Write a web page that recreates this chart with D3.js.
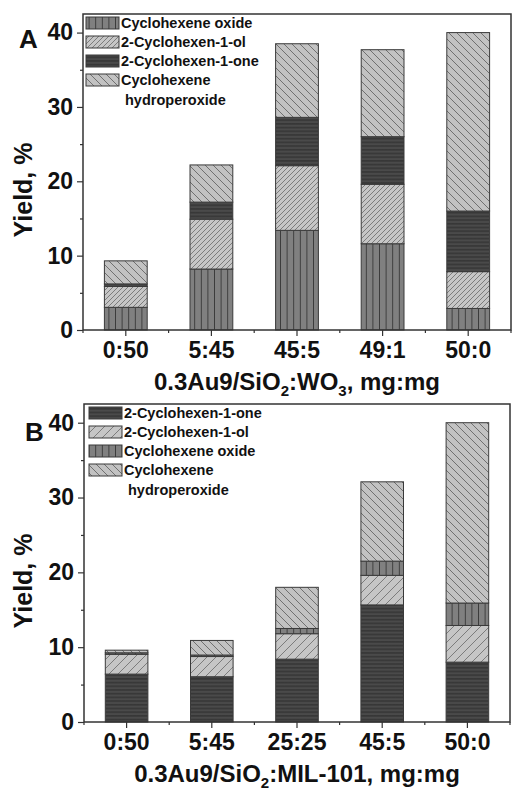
<!DOCTYPE html>
<html>
<head>
<meta charset="utf-8">
<script src="https://cdn.jsdelivr.net/npm/d3@7"></script>
<style>
  body { margin: 0; background: #fff; }
  text { font-family: "Liberation Sans", Arial, sans-serif; font-weight: bold; fill: #111; }
</style>
</head>
<body>
<div id="chart"></div>
<script>
// panel A: 0.3Au9/SiO2:WO3
var catsA = ["0:50", "5:45", "45:5", "49:1", "50:0"];
var oxideA = [3.05, 8.2, 13.4, 11.6, 2.9];
var olA = [2.8, 6.7, 8.7, 8.0, 4.95];
var oneA = [0.35, 2.3, 6.5, 6.4, 8.15];
var hydroA = [3.1, 5.0, 9.9, 11.7, 24.0];

// panel B: 0.3Au9/SiO2:MIL-101
var catsB = ["0:50", "5:45", "25:25", "45:5", "50:0"];
var oneB = [6.4, 6.05, 8.4, 15.65, 8.0];
var olB = [2.65, 2.7, 3.4, 3.95, 4.9];
var oxideB = [0.2, 0.2, 0.7, 1.9, 3.0];
var hydroB = [0.35, 1.95, 5.5, 10.6, 24.1];

var yTicks = [0, 10, 20, 30, 40];
var yMinor = [5, 15, 25, 35];

var width = 513, height = 790;

var svg = d3.select("#chart").append("svg")
  .attr("width", width)
  .attr("height", height);

var defs = svg.append("defs");

function addpattern(id, size, bg, line, path, sw) {
  var p = defs.append("pattern")
    .attr("id", id)
    .attr("patternUnits", "userSpaceOnUse")
    .attr("width", size)
    .attr("height", size);
  p.append("rect").attr("width", size).attr("height", size).attr("fill", bg);
  p.append("path").attr("d", path).attr("stroke", line).attr("stroke-width", sw).attr("fill", "none");
}

// vertical lines - cyclohexene oxide
addpattern("vert", 6.6, "#808080", "#3c3c3c", "M3.3,0V6.6", 1);
// horizontal lines - 2-cyclohexen-1-one
addpattern("horiz", 3.7, "#4a4a4a", "#262626", "M0,1.8H3.7", 0.9);
// "/" - 2-cyclohexen-1-ol (dense in A)
addpattern("fwdA", 5, "#c6c6c6", "#6a6a6a", "M-1,1L1,-1M0,5L5,0M4,6L6,4", 0.8);
// "/" - 2-cyclohexen-1-ol (wide in B)
addpattern("fwdB", 9, "#c6c6c6", "#6a6a6a", "M-1,1L1,-1M0,9L9,0M8,10L10,8", 0.8);
// "\" - cyclohexene hydroperoxide
addpattern("back", 8, "#c2c2c2", "#5a5a5a", "M-1,7L1,9M0,0L8,8M7,-1L9,1", 0.8);

function drawPanel(cfg) {
  var x = d3.scaleBand()
    .domain(cfg.cats)
    .range([cfg.x0, cfg.x1])
    .paddingInner(0.5)
    .paddingOuter(0.25);
  var y = d3.scaleLinear()
    .domain([0, 42.5])
    .range([cfg.yBottom, cfg.yTop]);

  var g = svg.append("g");

  // stacked bars
  var rows = cfg.cats.map(function(c, i) {
    var r = { cat: c };
    cfg.series.forEach(function(s) { r[s.key] = s.values[i]; });
    return r;
  });
  var stack = d3.stack().keys(cfg.series.map(function(s) { return s.key; }));
  var layers = stack(rows);

  layers.forEach(function(layer, li) {
    g.selectAll(null)
      .data(layer)
      .enter()
      .append("rect")
      .attr("x", function(d) { return x(d.data.cat); })
      .attr("y", function(d) { return y(d[1]); })
      .attr("width", x.bandwidth())
      .attr("height", function(d) { return y(d[0]) - y(d[1]); })
      .attr("fill", "url(#" + cfg.series[li].pattern + ")")
      .attr("stroke", "#3a3a3a")
      .attr("stroke-width", 1);
  });

  // frame
  g.append("rect")
    .attr("x", cfg.x0)
    .attr("y", cfg.yTop)
    .attr("width", cfg.x1 - cfg.x0)
    .attr("height", cfg.yBottom - cfg.yTop)
    .attr("fill", "none")
    .attr("stroke", "#333")
    .attr("stroke-width", 1.5);

  // y axis
  var yAxis = d3.axisLeft(y).tickValues(yTicks).tickSize(6).tickPadding(4);
  var ya = g.append("g").attr("transform", "translate(" + cfg.x0 + ",0)").call(yAxis);
  ya.select(".domain").remove();
  ya.selectAll("line").attr("stroke", "#333").attr("stroke-width", 1.2);
  ya.selectAll("text").attr("font-size", 23).attr("font-family", null).attr("fill", "#111");

  var yMin = g.append("g").attr("transform", "translate(" + cfg.x0 + ",0)")
    .call(d3.axisLeft(y).tickValues(yMinor).tickSize(3).tickFormat(""));
  yMin.select(".domain").remove();
  yMin.selectAll("line").attr("stroke", "#333").attr("stroke-width", 1.2);

  // x axis
  var xAxis = d3.axisBottom(x).tickSize(6).tickPadding(6);
  var xa = g.append("g").attr("transform", "translate(0," + cfg.yBottom + ")").call(xAxis);
  xa.select(".domain").remove();
  xa.selectAll("line").attr("stroke", "#333").attr("stroke-width", 1.2);
  xa.selectAll("text").attr("font-size", 23).attr("font-family", null).attr("fill", "#111");

  var step = x.step();
  var minorX = d3.range(cfg.cats.length + 1).map(function(i) { return cfg.x0 + i * step; });
  g.selectAll(null)
    .data(minorX)
    .enter()
    .append("line")
    .attr("x1", function(d) { return d; })
    .attr("x2", function(d) { return d; })
    .attr("y1", cfg.yBottom)
    .attr("y2", cfg.yBottom + 3)
    .attr("stroke", "#333")
    .attr("stroke-width", 1.2);

  // axis titles
  var t = g.append("text")
    .attr("x", (cfg.x0 + cfg.x1) / 2)
    .attr("y", cfg.titleY)
    .attr("text-anchor", "middle")
    .attr("font-size", 24);
  cfg.title.forEach(function(part) {
    var ts = t.append("tspan").text(part[0]);
    if (part[1] === "sub") ts.attr("font-size", 15).attr("dy", 6);
    else if (part[1] === "back") ts.attr("dy", -6);
  });

  g.append("text")
    .attr("transform", "translate(" + cfg.yTitleX + "," + cfg.yTitleY + ") rotate(-90)")
    .attr("text-anchor", "middle")
    .attr("font-size", 25)
    .text("Yield, %");

  g.append("text")
    .attr("x", cfg.letterX)
    .attr("y", cfg.letterY)
    .attr("font-size", 26)
    .text(cfg.letter);

  // legend
  var leg = g.append("g");
  cfg.legend.forEach(function(s, i) {
    var cy = cfg.legY + i * 19;
    leg.append("rect")
      .attr("x", cfg.legX)
      .attr("y", cy - 6)
      .attr("width", 33)
      .attr("height", 12)
      .attr("fill", "url(#" + s.pattern + ")")
      .attr("stroke", "#3a3a3a")
      .attr("stroke-width", 1);
    var lt = leg.append("text")
      .attr("x", cfg.legX + 35)
      .attr("y", cy + 5)
      .attr("font-size", 14.5);
    s.label.forEach(function(line, k) {
      lt.append("tspan")
        .attr("x", cfg.legX + 35 + (k > 0 ? 4 : 0))
        .attr("dy", k > 0 ? 20 : 0)
        .text(line);
    });
  });
}

drawPanel({
  cats: catsA,
  x0: 83, x1: 511, yTop: 14, yBottom: 330,
  series: [
    { key: "oxide", values: oxideA, pattern: "vert" },
    { key: "ol", values: olA, pattern: "fwdA" },
    { key: "one", values: oneA, pattern: "horiz" },
    { key: "hydro", values: hydroA, pattern: "back" }
  ],
  legend: [
    { label: ["Cyclohexene oxide"], pattern: "vert" },
    { label: ["2-Cyclohexen-1-ol"], pattern: "fwdA" },
    { label: ["2-Cyclohexen-1-one"], pattern: "horiz" },
    { label: ["Cyclohexene", "hydroperoxide"], pattern: "back" }
  ],
  legX: 86, legY: 23,
  title: [["0.3Au9/SiO"], ["2", "sub"], [":WO", "back"], ["3", "sub"], [", mg:mg", "back"]],
  titleY: 390,
  yTitleX: 32, yTitleY: 190,
  letter: "A", letterX: 19, letterY: 48
});

drawPanel({
  cats: catsB,
  x0: 84, x1: 510, yTop: 404, yBottom: 722,
  series: [
    { key: "one", values: oneB, pattern: "horiz" },
    { key: "ol", values: olB, pattern: "fwdB" },
    { key: "oxide", values: oxideB, pattern: "vert" },
    { key: "hydro", values: hydroB, pattern: "back" }
  ],
  legend: [
    { label: ["2-Cyclohexen-1-one"], pattern: "horiz" },
    { label: ["2-Cyclohexen-1-ol"], pattern: "fwdB" },
    { label: ["Cyclohexene oxide"], pattern: "vert" },
    { label: ["Cyclohexene", "hydroperoxide"], pattern: "back" }
  ],
  legX: 89, legY: 413,
  title: [["0.3Au9/SiO"], ["2", "sub"], [":MIL-101, mg:mg", "back"]],
  titleY: 782,
  yTitleX: 32, yTitleY: 581,
  letter: "B", letterX: 25, letterY: 441
});
</script>
</body>
</html>
